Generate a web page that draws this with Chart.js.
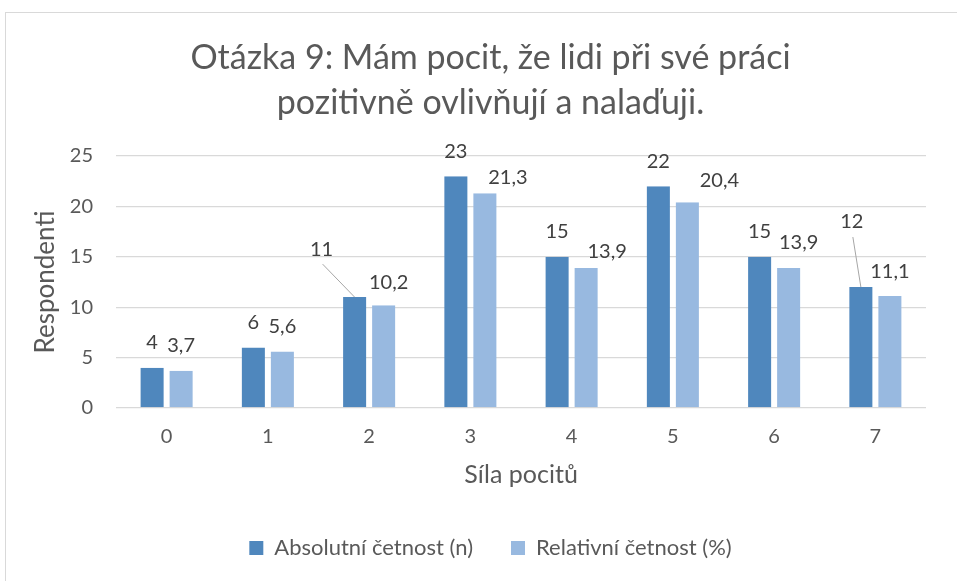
<!DOCTYPE html>
<html lang="cs">
  <head>
    <meta charset="UTF-8" />
    <title>Otázka 9</title>
    <script src="https://cdn.jsdelivr.net/npm/chart.js"></script>
    <style>
      body {
        margin: 0;
        background: #ffffff;
        overflow: hidden;
      }
      .box {
        position: absolute;
        left: 5px;
        top: 12px;
        width: 960px;
        height: 580px;
        border: 1px solid #d9d9d9;
        box-sizing: border-box;
      }
    </style>
  </head>
  <body>
    <div class="box"><canvas id="chart"></canvas></div>

    <script>
      const categories = ["0", "1", "2", "3", "4", "5", "6", "7"];
      const absolutni = [4, 6, 11, 23, 15, 22, 15, 12];
      const relativni = [3.7, 5.6, 10.2, 21.3, 13.9, 20.4, 13.9, 11.1];
      const seriesNames = ["Absolutní četnost (n)", "Relativní četnost (%)"];

      // posun popisků proti výchozí poloze nad sloupcem [dx, dy], třetí položka = vodicí čára
      const labelNudge = [
        [[0, 0], [0, 0], [-33, -23, true], [0, 0], [0, 0], [0, 0], [0, 0], [-9, -40, true]],
        [[0, 0], [0, 0], [5, 2], [23, 9], [21, 9], [32, 3], [10, 0], [0, 0]],
      ];

      const FONT = "Lato, 'Open Sans', sans-serif";

      const valueLabels = {
        id: "valueLabels",
        afterDatasetsDraw(chart) {
          const ctx = chart.ctx;
          ctx.save();
          ctx.font = "20px " + FONT;
          ctx.textAlign = "center";
          ctx.textBaseline = "middle";
          chart.data.datasets.forEach((ds, di) => {
            const meta = chart.getDatasetMeta(di);
            meta.data.forEach((bar, i) => {
              const n = labelNudge[di][i] || [0, 0];
              const x = bar.x + n[0];
              const y = bar.y - 25 + n[1];
              if (n[2]) {
                ctx.strokeStyle = "#a6a6a6";
                ctx.lineWidth = 1;
                ctx.beginPath();
                ctx.moveTo(x + 1, y + 15);
                ctx.lineTo(bar.x, bar.y);
                ctx.stroke();
              }
              ctx.fillStyle = "#404040";
              ctx.fillText(String(ds.data[i]).replace(".", ","), x, y);
            });
          });
          ctx.restore();
        },
      };

      const barStyle = {
        borderColor: "rgba(0,0,0,0)",
        borderWidth: { left: 3, right: 3, top: 0, bottom: 0 },
        borderSkipped: false,
        categoryPercentage: 0.573,
        barPercentage: 1,
      };

      new Chart(document.getElementById("chart"), {
        type: "bar",
        data: {
          labels: categories,
          datasets: [
            { label: seriesNames[0], data: absolutni, backgroundColor: "#4f87bd", ...barStyle },
            { label: seriesNames[1], data: relativni, backgroundColor: "#98b9e0", ...barStyle },
          ],
        },
        options: {
          responsive: true,
          maintainAspectRatio: false,
          animation: false,
          layout: { padding: { left: 49, right: 38, top: 0, bottom: 22 } },
          plugins: {
            title: {
              display: true,
              text: ["Otázka 9: Mám pocit, že lidi při své práci", "pozitivně ovlivňují a nalaďuji."],
              color: "#595959",
              font: { family: FONT, size: 34, weight: "normal", lineHeight: 45 / 34 },
              padding: { top: 22.5, bottom: 30.5 },
            },
            legend: {
              position: "bottom",
              labels: {
                color: "#595959",
                font: { family: FONT, size: 22 },
                boxWidth: 14,
                boxHeight: 14,
                padding: 38,
              },
            },
            tooltip: { enabled: false },
          },
          scales: {
            x: {
              grid: { display: false, drawTicks: false },
              border: { display: false },
              ticks: { color: "#595959", font: { family: FONT, size: 20 }, padding: 17 },
              title: {
                display: true,
                text: "Síla pocitů",
                color: "#595959",
                font: { family: FONT, size: 25 },
                padding: { top: 0, bottom: 9 },
              },
              afterFit(scale) {
                scale.height = 91;
              },
            },
            y: {
              min: 0,
              max: 25,
              ticks: { stepSize: 5, color: "#595959", font: { family: FONT, size: 20 }, padding: 23 },
              grid: { color: "#d9d9d9", lineWidth: 1.3, drawTicks: false },
              border: { display: false },
              title: {
                display: true,
                text: "Respondenti",
                color: "#595959",
                font: { family: FONT, size: 26 },
                padding: { top: -24.6, bottom: 0 },
              },
              afterFit(scale) {
                scale.width = 61;
              },
            },
          },
        },
        plugins: [valueLabels],
      });
    </script>
  </body>
</html>
